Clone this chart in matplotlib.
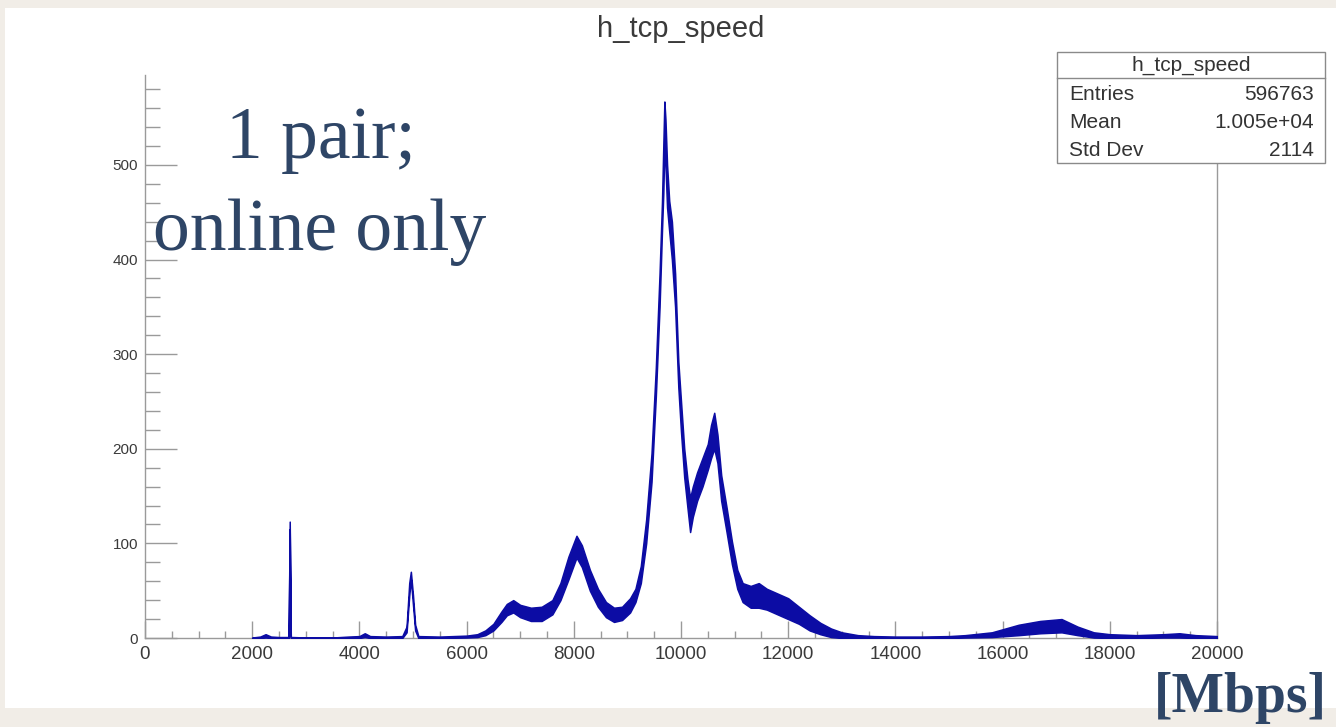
import numpy as np
import matplotlib
matplotlib.use("Agg")
import matplotlib.pyplot as plt
from matplotlib.patches import Rectangle
from matplotlib.ticker import MultipleLocator

# ---- data (speed in Mbps, band of counts per bin) ----
speed = [2000, 2150, 2250, 2350, 2500, 2650, 2680, 2700, 2720, 2750, 3000, 3500,
         3800, 4000, 4100, 4200, 4500, 4800, 4880, 4930, 4960, 5000, 5040, 5100,
         5500, 6000, 6200, 6350, 6500, 6650, 6750, 6870, 7000, 7200, 7400, 7600,
         7750, 7900, 8050, 8150, 8300, 8450, 8600, 8750, 8900, 9050, 9150, 9250,
         9350, 9450, 9530, 9600, 9645, 9670, 9690, 9710, 9740, 9780, 9830, 9890,
         9950, 10000, 10060, 10120, 10170, 10220, 10300, 10400, 10500, 10560,
         10620, 10680, 10750, 10850, 10950, 11050, 11150, 11300, 11450, 11600,
         11800, 12000, 12200, 12400, 12600, 12800, 13000, 13300, 13600, 14000,
         14500, 15000, 15300, 15800, 16300, 16700, 17100, 17400, 17700, 18000,
         18500, 19000, 19300, 19600, 20000]
count_lo = [0, 0, 0.5, 0, 0, 0, 0, 115, 0, 0, 0, 0,
            0, 0, 1, 0, 0, 0, 6, 45, 62, 35, 8, 0,
            0, 0.5, 1, 3, 8, 17, 24, 27, 22, 18, 18, 25,
            40, 62, 85, 75, 50, 33, 22, 17, 19, 27, 38, 58,
            100, 165, 255, 350, 430, 470, 520, 500, 455, 430, 400, 350,
            265, 218, 170, 138, 112, 128, 145, 160, 178, 190,
            200, 185, 145, 112, 78, 52, 38, 32, 32, 30,
            25, 20, 15, 8, 4, 1, 0, 0, 0, 0,
            0, 0, 0.5, 1, 3, 5, 6, 3, 0.5, 0,
            0, 0.5, 0.5, 0, 0]
count_hi = [0.5, 1.5, 4, 1.5, 1, 1, 1, 123, 1, 1, 0.5, 0.5,
            1.5, 2, 5, 2, 1.5, 2, 12, 58, 70, 45, 14, 2,
            1.5, 2.5, 4, 8, 15, 28, 36, 40, 35, 32, 33, 40,
            58, 86, 108, 98, 72, 52, 38, 32, 33, 42, 52, 76,
            125, 195, 285, 385, 460, 520, 567, 548, 500, 462, 440, 385,
            292, 250, 200, 168, 148, 160, 175, 190, 205, 225,
            238, 215, 172, 138, 102, 72, 58, 55, 58, 52,
            47, 42, 33, 24, 16, 10, 6, 3, 2, 1.5,
            1.5, 2, 3, 6, 14, 18, 20, 12, 6, 4,
            3, 4, 5, 3, 2]

x_major = list(range(0, 20001, 2000))
y_major = [0, 100, 200, 300, 400, 500]
stats_labels = ["Entries", "Mean", "Std Dev"]
stats_values = ["596763", "1.005e+04", "2114"]
hist_name = "h_tcp_speed"

# ---- figure ----
W, H = 1336, 727
fig = plt.figure(figsize=(W / 100, H / 100), dpi=100, facecolor="#f1ede7")


def fx(px):
    return px / W


def fy(py):
    return 1 - py / H


fig.patches.append(Rectangle((fx(5), fy(708)), fx(W - 5), (708 - 8) / H,
                             transform=fig.transFigure, facecolor="white",
                             edgecolor="none", zorder=-5))

ax = fig.add_axes([fx(145), fy(638), (1217 - 145) / W, (638 - 75) / H])
ax.set_zorder(1)
ax.set_facecolor("white")
ax.set_xlim(0, 20000)
ax.set_ylim(0, 595)

blue = "#0c0ca4"
ax.fill_between(speed, count_lo, count_hi, color=blue, lw=1.1,
                edgecolor=blue, zorder=3)

ax.spines["top"].set_visible(False)
for side in ["left", "bottom", "right"]:
    ax.spines[side].set_color("#9a9a9a")
    ax.spines[side].set_linewidth(1.0)

ax.set_xticks(x_major)
ax.set_xticklabels([str(v) for v in x_major])
ax.xaxis.set_minor_locator(MultipleLocator(500))
ax.set_yticks(y_major)
ax.set_yticklabels([str(v) for v in y_major])
ax.yaxis.set_minor_locator(MultipleLocator(20))
ax.xaxis.set_ticks_position("bottom")
ax.yaxis.set_ticks_position("left")

ax.tick_params(axis="x", which="major", direction="in", length=12, width=1,
               color="#9a9a9a", labelsize=13.5, labelcolor="#3a3a3a", pad=6)
ax.tick_params(axis="x", which="minor", direction="in", length=5, width=1,
               color="#9a9a9a")
ax.tick_params(axis="y", which="major", direction="in", length=23, width=1,
               color="#9a9a9a", labelsize=11, labelcolor="#3a3a3a", pad=5)
ax.tick_params(axis="y", which="minor", direction="in", length=11, width=1,
               color="#9a9a9a")
for lab in ax.get_xticklabels() + ax.get_yticklabels():
    lab.set_family("Liberation Sans")

# title
fig.text(fx(681), fy(29), hist_name, ha="center", va="center",
         fontsize=21, color="#3a3a3a", family="Liberation Sans")

# stats box
fig.patches.append(Rectangle((fx(1057), fy(163)), (1325 - 1057) / W, (163 - 52) / H,
                             transform=fig.transFigure, facecolor="white",
                             edgecolor="#8a8a8a", lw=1.0, zorder=5))
fig.lines.append(plt.Line2D([fx(1057), fx(1325)], [fy(78), fy(78)],
                            transform=fig.transFigure, color="#8a8a8a", lw=1.0,
                            zorder=6))
fig.text(fx(1191), fy(65), hist_name, ha="center", va="center", fontsize=15,
         color="#333333", family="Liberation Sans", zorder=7)
row_y = [95, 122, 150]
for lab, val, yy in zip(stats_labels, stats_values, row_y):
    fig.text(fx(1069), fy(yy), lab, ha="left", va="center", fontsize=15,
             color="#333333", family="Liberation Sans", zorder=7)
    fig.text(fx(1314), fy(yy), val, ha="right", va="center", fontsize=15,
             color="#333333", family="Liberation Sans", zorder=7)

# overlay annotations
ink = "#2e4566"
fig.text(fx(321), fy(158), "1 pair;", ha="center", va="baseline",
         fontsize=53, color=ink, family="Liberation Serif", zorder=8)
fig.text(fx(320), fy(250), "online only", ha="center", va="baseline",
         fontsize=53, color=ink, family="Liberation Serif", zorder=8)
fig.text(fx(1327), fy(712), "[Mbps]", ha="right", va="baseline",
         fontsize=40, color=ink, family="Liberation Serif", weight="bold",
         zorder=8)

fig.savefig("out.png", dpi=100, facecolor=fig.get_facecolor())
